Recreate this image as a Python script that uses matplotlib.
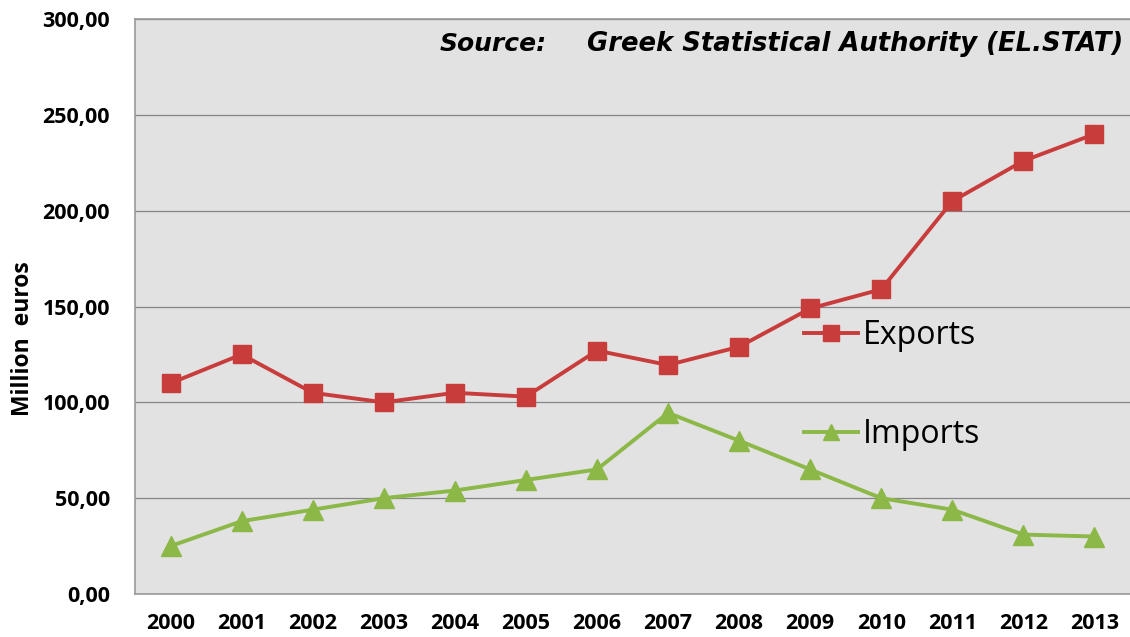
import matplotlib.pyplot as plt
import matplotlib
from matplotlib.ticker import FuncFormatter
import numpy as np

matplotlib.rcParams['font.family'] = ['Open Sans', 'DejaVu Sans']

years = ['2000', '2001', '2002', '2003', '2004', '2005', '2006',
         '2007', '2008', '2009', '2010', '2011', '2012', '2013']
exports = [110, 125, 105, 100, 105, 103, 127, 119.5, 129, 149, 159, 205, 226, 240]
imports = [25, 38, 44, 50, 54, 59.5, 65, 94.5, 80, 65, 50, 44, 31, 30]
yticks = [0, 50, 100, 150, 200, 250, 300]

fig = plt.figure(figsize=(11.3, 6.37), dpi=100)
ax = fig.add_axes([0.1195, 0.0675, 0.8805, 0.9025])
ax.set_facecolor('#e2e2e2')

x = np.arange(len(years))
l_exp, = ax.plot(x, exports, color='#c83c3c', lw=2.8, marker='s', ms=13.5,
                 label='Exports', zorder=3)
l_imp, = ax.plot(x, imports, color='#8cb847', lw=2.8, marker='^', ms=14,
                 label='Imports', zorder=3)

ax.set_xlim(-0.5, 13.5)
ax.set_ylim(0, 300)
ax.set_xticks(x)
ax.set_xticklabels(years)
ax.set_yticks(yticks)
ax.yaxis.set_major_formatter(FuncFormatter(lambda v, p: f'{v:.2f}'.replace('.', ',')))
ax.tick_params(length=0, labelsize=15.5)
ax.tick_params(axis='y', pad=18)
ax.tick_params(axis='x', pad=14)
for lab in ax.get_xticklabels() + ax.get_yticklabels():
    lab.set_fontweight('bold')

ax.grid(axis='y', color='#858585', lw=0.9)
ax.set_axisbelow(True)
for side in ['top', 'left', 'bottom']:
    ax.spines[side].set_color('#999999')
    ax.spines[side].set_linewidth(1.2)
ax.spines['right'].set_visible(False)

fig.text(23 / 1130, (637 - 339) / 637, 'Million  euros', rotation=90,
         ha='center', va='center', fontsize=16.5, fontweight='bold')

# source note, bold italic
fig.text(440 / 1130, (637 - 44) / 637, 'Source:', fontsize=18, fontweight='heavy',
         style='italic', va='center', family=['DejaVu Sans'])
fig.text(587 / 1130, (637 - 44) / 637, 'Greek Statistical Authority (EL.STAT)',
         fontsize=18.6, fontweight='heavy', style='italic', va='center',
         family=['DejaVu Sans'])

# two separate legend entries placed like the inline labels
leg1 = ax.legend(handles=[l_exp], loc='center left', bbox_to_anchor=(0.672, 0.45),
                 frameon=False, fontsize=23, handlelength=1.7, handletextpad=0.15,
                 borderpad=0, borderaxespad=0)
ax.add_artist(leg1)
leg2 = ax.legend(handles=[l_imp], loc='center left', bbox_to_anchor=(0.672, 0.277),
                 frameon=False, fontsize=23, handlelength=1.7, handletextpad=0.15,
                 borderpad=0, borderaxespad=0)
for lg in (leg1, leg2):
    for h in lg.legend_handles:
        h.set_markersize(12)

fig.savefig('out.png', dpi=100)
